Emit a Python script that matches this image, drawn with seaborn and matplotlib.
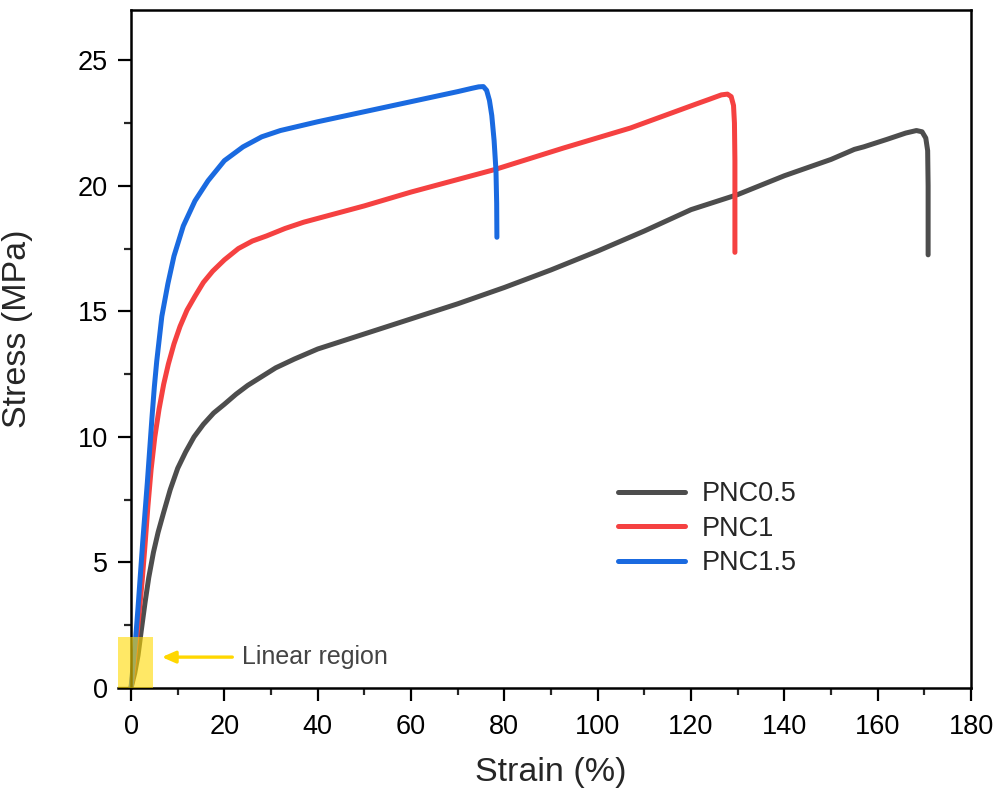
import matplotlib
matplotlib.use("Agg")
import matplotlib.pyplot as plt
from matplotlib.patches import Rectangle
from matplotlib.ticker import MultipleLocator
import seaborn as sns
import pandas as pd

# PNC0.5
strain_05 = [0, 0.8, 1.5, 2.2, 3, 3.8, 4.8, 5.8, 7, 8.4, 10, 11.7, 13.5, 15.5, 17.7, 20, 22.5, 25, 28, 31,
             35, 40, 50, 60, 70, 80, 90, 100, 110, 120, 130, 140, 150, 155, 157, 162, 166, 168.3, 169.5, 170.3,
             170.7, 170.8, 170.8]
stress_05 = [0, 0.6, 1.3, 2.3, 3.4, 4.4, 5.4, 6.2, 7.0, 7.9, 8.75, 9.4, 10.0, 10.5, 10.95, 11.3, 11.7, 12.05, 12.4, 12.75,
             13.1, 13.5, 14.1, 14.7, 15.3, 15.95, 16.65, 17.4, 18.2, 19.05, 19.65, 20.4, 21.05, 21.45, 21.55, 21.85, 22.1, 22.2, 22.15, 21.9,
             21.4, 20.0, 17.25]

# PNC1
strain_1 = [0, 0.6, 1.2, 1.8, 2.4, 3.0, 3.6, 4.3, 5.1, 6, 7, 8, 9.2, 10.5, 12, 13.7, 15.5, 17.5, 20, 23,
            26, 29, 33, 37, 42, 50, 60, 64, 70, 78, 92.6, 107, 121, 124, 126.5, 127.8, 128.6, 129.1, 129.3, 129.4,
            129.4]
stress_1 = [0, 0.9, 2.0, 3.1, 4.3, 5.7, 7.2, 8.7, 10.0, 11.1, 12.1, 12.9, 13.7, 14.4, 15.05, 15.6, 16.15, 16.6, 17.05, 17.5,
            17.8, 18.0, 18.3, 18.55, 18.8, 19.2, 19.75, 19.95, 20.25, 20.65, 21.5, 22.3, 23.25, 23.45, 23.62, 23.65, 23.55, 23.2, 22.5, 21.0,
            17.35]

# PNC1.5
strain_15 = [0, 0.5, 1, 1.5, 2, 2.5, 3, 3.5, 4, 4.5, 5, 5.5, 6.6, 7.9, 9.2, 11.2, 13.7, 16.5, 20, 24,
             28, 32, 40, 50, 60, 70, 73, 74.5, 75.5, 76.2, 76.8, 77.3, 77.8, 78.2, 78.35, 78.4]
stress_15 = [0, 1, 2, 3.2, 4.5, 5.8, 7, 8.2, 9.5, 10.8, 12, 13, 14.8, 16.1, 17.2, 18.4, 19.4, 20.2, 21.0, 21.55,
             21.95, 22.2, 22.55, 22.95, 23.35, 23.75, 23.88, 23.94, 23.95, 23.8, 23.4, 22.8, 21.8, 20.6, 19.3, 17.95]

labels = ["PNC0.5", "PNC1", "PNC1.5"]
colors = ["#4d4d4d", "#f54141", "#1a6ae0"]

frames = []
for name, xs, ys in zip(labels, [strain_05, strain_1, strain_15], [stress_05, stress_1, stress_15]):
    frames.append(pd.DataFrame({"strain": xs, "stress": ys, "sample": name}))
df = pd.concat(frames, ignore_index=True)

sns.set_style("ticks")
plt.rcParams["font.family"] = ["Liberation Sans", "DejaVu Sans"]

fig = plt.figure(figsize=(9.98, 7.94), dpi=100)
ax = fig.add_axes([0.1182, 0.1335, 0.8548, 0.8539])

sns.lineplot(data=df, x="strain", y="stress", hue="sample", palette=colors, sort=False,
             estimator=None, lw=3.6, ax=ax,
             solid_capstyle="round", solid_joinstyle="round")

ax.set_xlim(-2.8, 180)
ax.set_ylim(0, 27)
ax.xaxis.set_major_locator(MultipleLocator(20))
ax.xaxis.set_minor_locator(MultipleLocator(10))
ax.yaxis.set_major_locator(MultipleLocator(5))
ax.yaxis.set_minor_locator(MultipleLocator(2.5))

for s in ax.spines.values():
    s.set_visible(True)
    s.set_linewidth(1.8)
    s.set_color("black")
ax.spines["left"].set_position(("data", 0))
ax.spines["top"].set_bounds(0, 180)

ax.tick_params(which="major", direction="out", length=9.5, width=1.6, labelsize=19.5, pad=7,
               top=False, right=False, colors="black")
ax.tick_params(axis="x", which="major", pad=9)
ax.tick_params(which="minor", direction="out", length=5, width=1.6, top=False, right=False)

ax.set_xlabel("Strain (%)", fontsize=24.5)
ax.set_ylabel("Stress (MPa)", fontsize=24.5)
ax.xaxis.set_label_coords(0.5076, -0.1015)
ax.yaxis.set_label_coords(-0.0997, 0.53)

# highlighted linear region
ax.add_patch(Rectangle((-2.8, 0), 7.5, 2.03, facecolor="#FFD900", alpha=0.6,
                       edgecolor="none", zorder=5, clip_on=False))
ax.annotate("", xy=(6.0, 1.23), xytext=(22.3, 1.23),
            arrowprops=dict(arrowstyle="-|>,head_length=0.8,head_width=0.35",
                            color="#FFD700", lw=2.4))
ax.text(23.8, 1.23, "Linear region", fontsize=18, color="#444444", va="center", ha="left")

leg = ax.legend(title=None, frameon=False, fontsize=19.5, handlelength=2.5, handletextpad=0.6,
                labelspacing=0.32, borderpad=0, borderaxespad=0, loc="upper left",
                bbox_to_anchor=(0.619, 0.394), bbox_transform=fig.transFigure)
for line in leg.get_lines():
    line.set_linewidth(3.6)
    line.set_solid_capstyle("round")

fig.savefig("out.png", dpi=100)
